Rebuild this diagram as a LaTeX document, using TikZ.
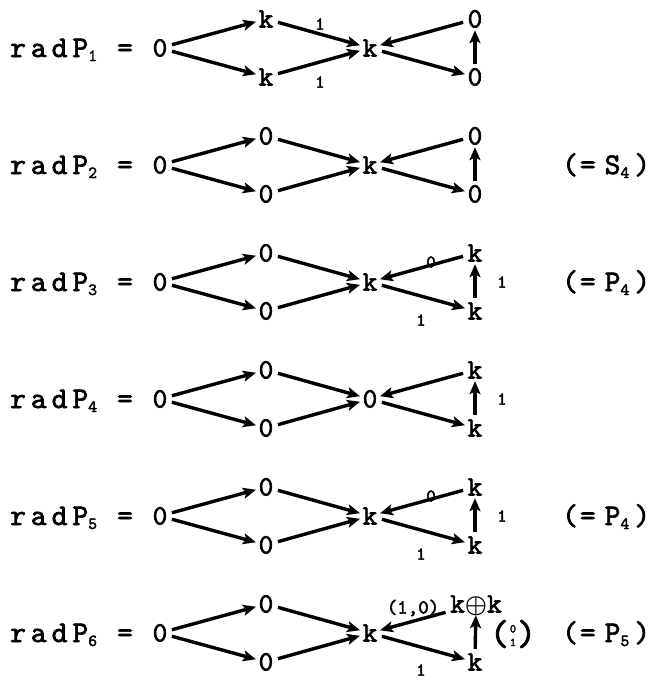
\documentclass[tikz,border=0pt]{standalone}
\usepackage{amsmath}
\usepackage{fontspec}
\usetikzlibrary{arrows.meta}
\newfontfamily\tw{lmmono10-regular}[Extension=.otf,FakeBold=2.2]
\newcommand{\sbx}[1]{\raisebox{-4pt}{\fontsize{17}{17}\selectfont #1}}
\newcommand{\rad}[1]{r\kern5pt a\kern5pt d\kern5pt P\sbx{#1}}
\newcommand{\eqq}[2]{(\kern2pt=\kern9pt #1\sbx{#2}\kern5pt)}
\newcommand{\colvec}[2]{{\fontsize{36}{36}\selectfont(}\kern1pt\raisebox{-1pt}{\fontsize{12}{12}\selectfont\shortstack{#1\\[3pt]#2}}\kern1pt{\fontsize{36}{36}\selectfont)}}
\begin{document}
\begin{tikzpicture}[x=1pt,y=-1pt,
  lab/.style={font=\tw\fontsize{30}{30}\selectfont, anchor=base west, inner sep=0pt},
  eqs/.style={font=\tw\fontsize{30}{30}\selectfont, anchor=base, inner sep=0pt},
  nd/.style={font=\tw\fontsize{28}{28}\selectfont, inner sep=1.5pt, text height=17pt, text depth=0pt},
  ar/.style={line width=3.4pt, -{Stealth[length=13pt,width=11pt,inset=3pt]}, shorten <=3pt, shorten >=1pt},
  sm/.style={font=\tw\fontsize{18}{18}\selectfont, inner sep=0pt}]
\useasboundingbox (0,0) rectangle (659,680);

% ---------- Row 1 (Y=48)
\node[lab] (l1) at (10,57) {\rad{1}};
\node[eqs] (e1) at (125,57) {=};
\node[nd] (a1) at (160,48) {0};
\node[nd] (t1) at (266,19) {k};
\node[nd] (b1) at (266,77) {k};
\node[nd] (m1) at (370,48) {k};
\node[nd] (rt1) at (475,19) {0};
\node[nd] (rb1) at (475,77) {0};
\draw[ar] (a1) -- (t1);
\draw[ar] (a1) -- (b1);
\draw[ar] (t1) -- (m1);
\draw[ar] (b1) -- (m1);
\draw[ar] (rt1) -- (m1);
\draw[ar] (m1) -- (rb1);
\draw[ar] (rb1) -- (rt1);
\node[sm] (n1a) at (320,24) {1};
\node[sm] (n1b) at (320,82) {1};

% ---------- Row 2 (Y=165)
\node[lab] (l2) at (10,174) {\rad{2}};
\node[eqs] (e2) at (125,174) {=};
\node[nd] (a2) at (160,165) {0};
\node[nd] (t2) at (266,136) {0};
\node[nd] (b2) at (266,194) {0};
\node[nd] (m2) at (370,165) {k};
\node[nd] (rt2) at (475,136) {0};
\node[nd] (rb2) at (475,194) {0};
\draw[ar] (a2) -- (t2);
\draw[ar] (a2) -- (b2);
\draw[ar] (t2) -- (m2);
\draw[ar] (b2) -- (m2);
\draw[ar] (rt2) -- (m2);
\draw[ar] (m2) -- (rb2);
\draw[ar] (rb2) -- (rt2);
\node[lab] (q2) at (562,174) {\eqq{S}{4}};

% ---------- Row 3 (Y=282)
\node[lab] (l3) at (10,291) {\rad{3}};
\node[eqs] (e3) at (125,291) {=};
\node[nd] (a3) at (160,282) {0};
\node[nd] (t3) at (266,253) {0};
\node[nd] (b3) at (266,311) {0};
\node[nd] (m3) at (370,282) {k};
\node[nd] (rt3) at (475,253) {k};
\node[nd] (rb3) at (475,311) {k};
\draw[ar] (a3) -- (t3);
\draw[ar] (a3) -- (b3);
\draw[ar] (t3) -- (m3);
\draw[ar] (b3) -- (m3);
\draw[ar] (rt3) -- (m3);
\draw[ar] (m3) -- (rb3);
\draw[ar] (rb3) -- (rt3);
\node[sm] (n3a) at (431,262) {0};
\node[sm] (n3b) at (421,320) {1};
\node[sm] (n3c) at (502,282) {1};
\node[lab] (q3) at (562,291) {\eqq{P}{4}};

% ---------- Row 4 (Y=399)
\node[lab] (l4) at (10,408) {\rad{4}};
\node[eqs] (e4) at (125,408) {=};
\node[nd] (a4) at (160,399) {0};
\node[nd] (t4) at (266,370) {0};
\node[nd] (b4) at (266,428) {0};
\node[nd] (m4) at (370,399) {0};
\node[nd] (rt4) at (475,370) {k};
\node[nd] (rb4) at (475,428) {k};
\draw[ar] (a4) -- (t4);
\draw[ar] (a4) -- (b4);
\draw[ar] (t4) -- (m4);
\draw[ar] (b4) -- (m4);
\draw[ar] (rt4) -- (m4);
\draw[ar] (m4) -- (rb4);
\draw[ar] (rb4) -- (rt4);
\node[sm] (n4c) at (502,399) {1};

% ---------- Row 5 (Y=516)
\node[lab] (l5) at (10,525) {\rad{5}};
\node[eqs] (e5) at (125,525) {=};
\node[nd] (a5) at (160,516) {0};
\node[nd] (t5) at (266,487) {0};
\node[nd] (b5) at (266,545) {0};
\node[nd] (m5) at (370,516) {k};
\node[nd] (rt5) at (475,487) {k};
\node[nd] (rb5) at (475,545) {k};
\draw[ar] (a5) -- (t5);
\draw[ar] (a5) -- (b5);
\draw[ar] (t5) -- (m5);
\draw[ar] (b5) -- (m5);
\draw[ar] (rt5) -- (m5);
\draw[ar] (m5) -- (rb5);
\draw[ar] (rb5) -- (rt5);
\node[sm] (n5a) at (431,496) {0};
\node[sm] (n5b) at (421,554) {1};
\node[sm] (n5c) at (502,516) {1};
\node[lab] (q5) at (562,525) {\eqq{P}{4}};

% ---------- Row 6 (Y=633)
\node[lab] (l6) at (10,642) {\rad{6}};
\node[eqs] (e6) at (125,642) {=};
\node[nd] (a6) at (160,633) {0};
\node[nd] (t6) at (266,604) {0};
\node[nd] (b6) at (266,662) {0};
\node[nd] (m6) at (370,633) {k};
\node[nd] (rt6) at (476,604) {k$\boldsymbol{\oplus}$k};
\node[nd] (rb6) at (475,662) {k};
\draw[ar] (a6) -- (t6);
\draw[ar] (a6) -- (b6);
\draw[ar] (t6) -- (m6);
\draw[ar] (b6) -- (m6);
\draw[ar] (rt6) -- (m6);
\draw[ar] (m6) -- (rb6);
\draw[ar] (rb6) -- (rt6);
\node[sm, font=\tw\fontsize{20}{20}\selectfont] (n6a) at (413,608) {(1,0)};
\node[sm] (n6b) at (421,670) {1};
\node[sm] (n6c) at (513,634) {\colvec{0}{1}};
\node[lab] (q6) at (562,642) {\eqq{P}{5}};
\end{tikzpicture}
\end{document}
